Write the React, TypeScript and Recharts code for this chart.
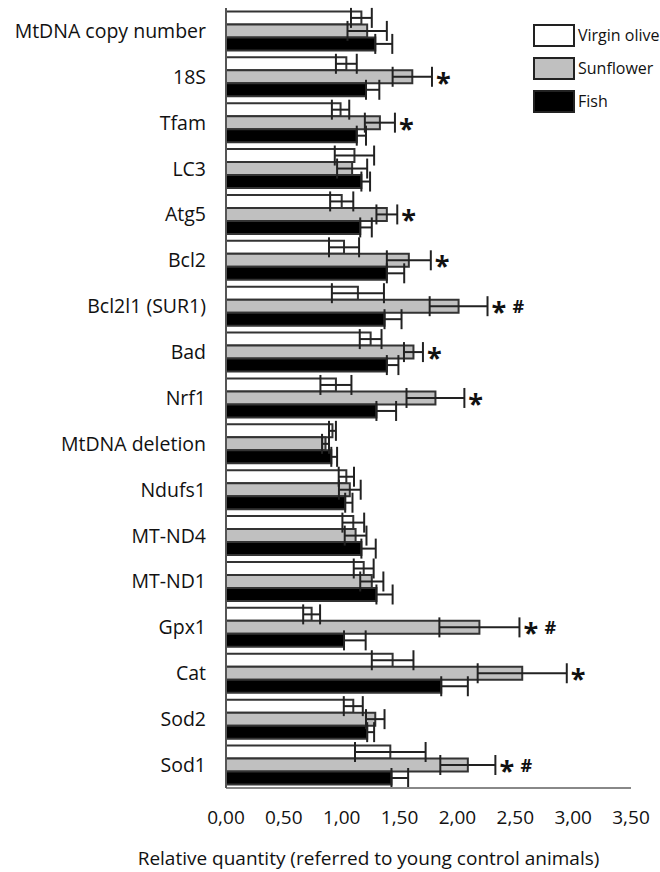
import React from "react";
import { BarChart, Bar, XAxis, YAxis, ErrorBar, LabelList, Legend } from "recharts";

const categories = [
  "MtDNA copy number", "18S", "Tfam", "LC3", "Atg5", "Bcl2", "Bcl2l1 (SUR1)", "Bad", "Nrf1",
  "MtDNA deletion", "Ndufs1", "MT-ND4", "MT-ND1", "Gpx1", "Cat", "Sod2", "Sod1",
];
const olive = [1.17, 1.04, 0.99, 1.11, 1.0, 1.02, 1.14, 1.25, 0.95, 0.92, 1.04, 1.1, 1.19, 0.74, 1.44, 1.1, 1.42];
const oliveErr = [0.09, 0.09, 0.075, 0.17, 0.1, 0.13, 0.225, 0.094, 0.134, 0.03, 0.066, 0.094, 0.086, 0.073, 0.18, 0.082, 0.305];
const sunflower = [1.22, 1.61, 1.33, 1.09, 1.39, 1.58, 2.01, 1.62, 1.81, 0.86, 1.07, 1.12, 1.26, 2.19, 2.56, 1.29, 2.09];
const sunflowerErr = [0.17, 0.17, 0.13, 0.13, 0.09, 0.19, 0.25, 0.082, 0.25, 0.03, 0.094, 0.094, 0.1, 0.346, 0.385, 0.08, 0.238];
const fish = [1.29, 1.21, 1.13, 1.17, 1.16, 1.39, 1.37, 1.39, 1.3, 0.91, 1.03, 1.17, 1.3, 1.02, 1.86, 1.22, 1.43];
const fishErr = [0.147, 0.115, 0.08, 0.075, 0.1, 0.15, 0.147, 0.1, 0.17, 0.05, 0.063, 0.124, 0.14, 0.187, 0.23, 0.06, 0.144];
const significance = ["", "*", "*", "", "*", "*", "* #", "*", "*", "", "", "", "", "* #", "*", "", "* #"];
const xTicks = [0, 0.5, 1, 1.5, 2, 2.5, 3, 3.5];
const seriesNames = ["Virgin olive", "Sunflower", "Fish"];
const seriesFills = ["#ffffff", "#c0c0c0", "#000000"];
const xTitle = "Relative quantity  (referred to young control animals)";

const data = categories.map((name, i) => ({
  name,
  olive: olive[i],
  oliveErr: oliveErr[i],
  sunflower: sunflower[i],
  sunflowerErr: sunflowerErr[i],
  fish: fish[i],
  fishErr: [0, fishErr[i]],
  sigInfo: `${significance[i]}|${sunflower[i]}|${sunflowerErr[i]}`,
}));

const FONT = "'Open Sans', sans-serif";

const SigMark = (props: any) => {
  const vb = props.viewBox || {};
  const x = props.x ?? vb.x;
  const y = props.y ?? vb.y;
  const width = props.width ?? vb.width;
  const height = props.height ?? vb.height;
  const value = String(props.value ?? "");
  const [sig, v, e] = value.split("|");
  if (!sig) return null;
  const pxPerUnit = width / Number(v);
  const end = x + width + Number(e) * pxPerUnit;
  const cy = y + height / 2;
  const parts = sig.split(" ");
  return (
    <g>
      {parts.includes("*") && (
        <text x={end + 4} y={cy + 15} fontSize={27} fontWeight="bold" fontFamily={FONT} fill="#111">*</text>
      )}
      {parts.includes("#") && (
        <text x={end + 25} y={cy + 6.5} fontSize={18} fontWeight="bold" fontFamily={FONT} fill="#111">#</text>
      )}
    </g>
  );
};

const LegendContent = () => (
  <div style={{ fontFamily: FONT, fontSize: 16, color: "#111" }}>
    {seriesNames.map((n, i) => (
      <div key={n} style={{ display: "flex", alignItems: "center", height: 22, marginBottom: 11 }}>
        <div
          style={{
            width: 38,
            height: 19,
            background: seriesFills[i],
            border: "2px solid #222",
            marginRight: 3,
          }}
        />
        <span>{n}</span>
      </div>
    ))}
  </div>
);

const XTitle = (props: any) => {
  const vb = props.viewBox || {};
  return (
    <text
      x={vb.x + vb.width / 2 - 60}
      y={vb.y + 77}
      textAnchor="middle"
      fontSize={19}
      fontFamily={FONT}
      fill="#111"
    >
      {xTitle}
    </text>
  );
};

export default function App() {
  return (
    <div style={{ position: "absolute", left: 0, top: 0, background: "#fff" }}>
      <BarChart
        width={660}
        height={872}
        data={data}
        layout="vertical"
        margin={{ top: 8, right: 29, bottom: 24, left: 0 }}
        barCategoryGap={3.4}
        barGap={0}
      >
        <XAxis
          type="number"
          domain={[0, 3.5]}
          ticks={xTicks}
          tickFormatter={(v: number) => v.toFixed(2).replace(".", ",")}
          height={60}
          tickLine={false}
          tickSize={0}
          tickMargin={23}
          axisLine={{ stroke: "#888", strokeWidth: 2 }}
          tick={{ fontSize: 19, fontFamily: FONT, fill: "#111" }}
          label={<XTitle />}
          allowDataOverflow
        />
        <YAxis
          type="category"
          dataKey="name"
          width={226}
          tickLine={false}
          tickSize={0}
          tickMargin={20}
          axisLine={{ stroke: "#555", strokeWidth: 2 }}
          tick={{ fontSize: 19.5, fontFamily: FONT, fill: "#111" }}
          interval={0}
        />
        <Legend
          layout="vertical"
          verticalAlign="middle"
          align="center"
          content={<LegendContent />}
          wrapperStyle={{ top: 24, left: 533, width: 130, position: "absolute" }}
        />
        <Bar dataKey="olive" name={seriesNames[0]} fill={seriesFills[0]} stroke="#333" strokeWidth={2} isAnimationActive={false}>
          <ErrorBar dataKey="oliveErr" direction="x" width={10} stroke="#222" strokeWidth={2} />
        </Bar>
        <Bar dataKey="sunflower" name={seriesNames[1]} fill={seriesFills[1]} stroke="#333" strokeWidth={2} isAnimationActive={false}>
          <ErrorBar dataKey="sunflowerErr" direction="x" width={10} stroke="#222" strokeWidth={2} />
          <LabelList dataKey="sigInfo" content={<SigMark />} />
        </Bar>
        <Bar dataKey="fish" name={seriesNames[2]} fill={seriesFills[2]} stroke="#333" strokeWidth={2} isAnimationActive={false}>
          <ErrorBar dataKey="fishErr" direction="x" width={10} stroke="#222" strokeWidth={2} />
        </Bar>
      </BarChart>
    </div>
  );
}
